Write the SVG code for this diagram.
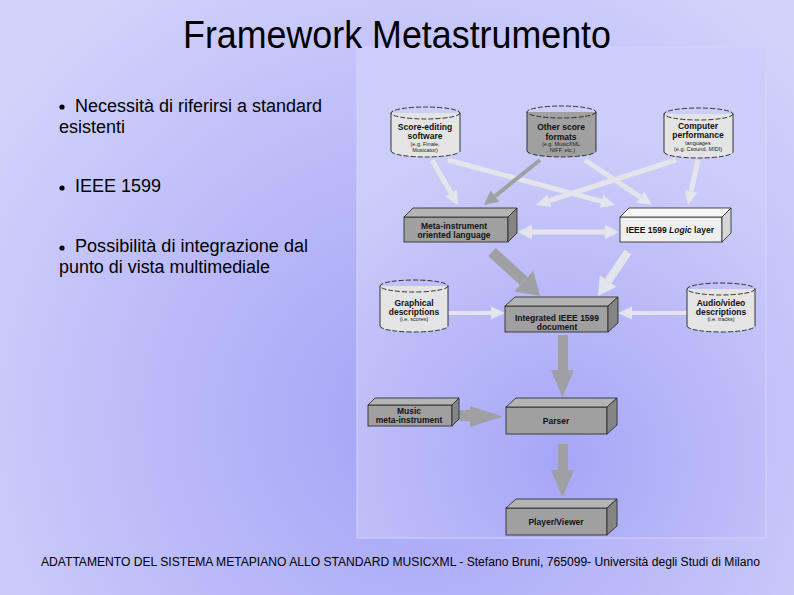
<svg xmlns="http://www.w3.org/2000/svg" width="794" height="595" viewBox="0 0 794 595">
<defs>
<radialGradient id="bg" cx="420" cy="420" r="520" gradientUnits="userSpaceOnUse">
<stop offset="0" stop-color="#a2a2f8"/>
<stop offset="0.55" stop-color="#bcbcf9"/>
<stop offset="1" stop-color="#d2d2fb"/>
</radialGradient>
<radialGradient id="bg2" cx="560" cy="460" r="330" gradientUnits="userSpaceOnUse">
<stop offset="0" stop-color="#a6a6f8"/>
<stop offset="0.6" stop-color="#bdbdf9"/>
<stop offset="1" stop-color="#cdcdfa"/>
</radialGradient>
<style>
.t{font-family:"Liberation Sans",Arial,sans-serif;fill:#000}
.b{font-family:"Liberation Sans",Arial,sans-serif;font-weight:bold;font-size:8.5px;text-anchor:middle;fill:#111}
.s{font-family:"Liberation Sans",Arial,sans-serif;font-size:5.5px;text-anchor:middle;fill:#222}
.g{fill:#a0a0a0;stroke:#222;stroke-width:0.8}
.gt{fill:#b4b4b4;stroke:#222;stroke-width:0.8}
.gs{fill:#858585;stroke:#222;stroke-width:0.8}
.l{fill:#efefef;stroke:#222;stroke-width:0.8}
.lt{fill:#f7f7f7;stroke:#222;stroke-width:0.8}
.ls{fill:#d6d6d6;stroke:#222;stroke-width:0.8}
.cb{stroke:none}
.cs{stroke:#222;stroke-width:0.9}
.cd{fill:none;stroke:#222;stroke-width:0.9;stroke-dasharray:5 2}
.la{fill:#e4e4ec}
.ga{fill:#a0a0a4}
</style>
</defs>
<rect width="794" height="595" fill="url(#bg)"/>
<rect x="357" y="47" width="409" height="491" fill="url(#bg2)" stroke="#d4d4fb" stroke-width="1"/>

<text class="t" x="183" y="48" font-size="38" textLength="428" lengthAdjust="spacingAndGlyphs">Framework Metastrumento</text>

<g id="bullets">
<circle cx="62" cy="107" r="2.6" fill="#000"/>
<text class="t" x="75" y="112" font-size="18" textLength="247" lengthAdjust="spacingAndGlyphs">Necessità di riferirsi a standard</text>
<text class="t" x="59" y="133" font-size="18">esistenti</text>
<circle cx="62" cy="188" r="2.6" fill="#000"/>
<text class="t" x="75" y="192" font-size="18">IEEE 1599</text>
<circle cx="62" cy="248" r="2.6" fill="#000"/>
<text class="t" x="75" y="252" font-size="18" textLength="233" lengthAdjust="spacingAndGlyphs">Possibilità di integrazione dal</text>
<text class="t" x="59" y="273" font-size="18" textLength="211" lengthAdjust="spacingAndGlyphs">punto di vista multimediale</text>
</g>

<text class="t" x="41" y="566" font-size="12" textLength="719" lengthAdjust="spacingAndGlyphs">ADATTAMENTO DEL SISTEMA METAPIANO ALLO STANDARD MUSICXML - Stefano Bruni, 765099- Università degli Studi di Milano</text>

<g id="connectors">
<!-- top row to middle row -->
<line x1="432" y1="160" x2="451" y2="192.9" stroke="#e4e4ec" stroke-width="5"/>
<polygon class="la" points="458,205 444.9,196.4 457.0,189.4"/>
<line x1="448" y1="160" x2="601.5" y2="201.4" stroke="#e4e4ec" stroke-width="5"/>
<polygon class="la" points="615,205 599.8,207.7 603.2,195.1"/>
<line x1="540" y1="160" x2="494.9" y2="196.2" stroke="#a0a0a4" stroke-width="4"/>
<polygon class="ga" points="484,205 490.6,190.7 499.2,201.7"/>
<line x1="585" y1="160" x2="640.4" y2="197.2" stroke="#e4e4ec" stroke-width="5"/>
<polygon class="la" points="652,205 636.6,202.9 644.2,191.5"/>
<line x1="676" y1="160" x2="549.3" y2="200.7" stroke="#e4e4ec" stroke-width="5"/>
<polygon class="la" points="536,205 547.3,194.5 551.3,206.9"/>
<line x1="698" y1="160" x2="691" y2="191.3" stroke="#e4e4ec" stroke-width="5"/>
<polygon class="la" points="688,205 684.7,189.9 697.3,192.7"/>
<!-- Meta <-> Logic -->
<polygon class="la" points="518,232 532,224.5 532,229.5 605,229.5 605,224.5 619,232 605,239.5 605,234.5 532,234.5 532,239.5"/>
<!-- Meta -> Integrated (thick gray) -->
<line x1="492" y1="252" x2="523.8" y2="281.1" stroke="#a0a0a4" stroke-width="11"/>
<polygon class="ga" points="540,296 514.3,291.4 533.3,270.8"/>
<!-- Logic -> Integrated -->
<line x1="628" y1="252" x2="608.1" y2="281.1" stroke="#e4e4ec" stroke-width="8"/>
<polygon class="la" points="598,296 599.8,275.5 616.4,286.8"/>
<!-- Graphical -> Integrated -->
<polygon class="la" points="448,311 491,311 491,306.5 505,313 491,319.5 491,315 448,315"/>
<!-- Audio -> Integrated -->
<polygon class="la" points="687,311 632,311 632,306.5 618,313 632,319.5 632,315 687,315"/>
<!-- Integrated -> Parser -->
<polygon class="ga" points="558,335 568,335 568,370 574,370 562.5,397 551,370 558,370"/>
<!-- Parser -> Player -->
<polygon class="ga" points="558,444 568,444 568,470 574,470 562.5,497 551,470 558,470"/>
<!-- Music -> Parser -->
<polygon class="ga" points="459,410 470,410 470,406 503,416.5 470,427 470,421 459,421"/>
</g>

<g id="score-editing">
<path class="cb" fill="#e4e4e4" d="M391,113 L391,151 A34.5,6 0 0 0 460,151 L460,113 Z"/>
<line class="cs" x1="391" y1="113" x2="391" y2="151"/>
<line class="cs" x1="460" y1="113" x2="460" y2="151"/>
<path class="cd" d="M391,151 A34.5,6 0 0 0 460,151"/>
<ellipse cx="425.5" cy="113" rx="34.5" ry="6" fill="#eeeeee" class="cd"/>
<text class="b" x="425" y="130">Score-editing</text>
<text class="b" x="425" y="139">software</text>
<text class="s" x="425" y="145.5">(e.g. Finale,</text>
<text class="s" x="425" y="151.5">Musicator)</text>
</g>

<g id="other-formats">
<path class="cb" fill="#a0a0a0" d="M527,112 L527,151 A34.5,6 0 0 0 596,151 L596,112 Z"/>
<line class="cs" x1="527" y1="112" x2="527" y2="151"/>
<line class="cs" x1="596" y1="112" x2="596" y2="151"/>
<path class="cd" d="M527,151 A34.5,6 0 0 0 596,151"/>
<ellipse cx="561.5" cy="112" rx="34.5" ry="6" fill="#a8a8a8" class="cd"/>
<text class="b" x="561" y="130">Other score</text>
<text class="b" x="561" y="140">formats</text>
<text class="s" x="561" y="146">(e.g. MusicXML</text>
<text class="s" x="561" y="152">, NIFF, etc.)</text>
</g>

<g id="computer-performance">
<path class="cb" fill="#e4e4e4" d="M664,114 L664,152 A34.5,6 0 0 0 733,152 L733,114 Z"/>
<line class="cs" x1="664" y1="114" x2="664" y2="152"/>
<line class="cs" x1="733" y1="114" x2="733" y2="152"/>
<path class="cd" d="M664,152 A34.5,6 0 0 0 733,152"/>
<ellipse cx="698.5" cy="114" rx="34.5" ry="6" fill="#eeeeee" class="cd"/>
<text class="b" x="698" y="129">Computer</text>
<text class="b" x="698" y="138">performance</text>
<text class="s" x="698" y="145" font-size="7">languages</text>
<text class="s" x="698" y="151">(e.g. Csound, MIDI)</text>
</g>

<g id="meta-instrument">
<rect class="g" x="404" y="217" width="104" height="25"/>
<polygon class="gt" points="404,217 413,208 517,208 508,217"/>
<polygon class="gs" points="508,217 517,208 517,233 508,242"/>
<text class="b" x="454" y="228.5">Meta-instrument</text>
<text class="b" x="454" y="237.5">oriented language</text>
</g>

<g id="logic-layer">
<rect class="l" x="620" y="217" width="102" height="25"/>
<polygon class="lt" points="620,217 629,208 731,208 722,217"/>
<polygon class="ls" points="722,217 731,208 731,233 722,242"/>
<text class="b" x="670" y="233">IEEE 1599 <tspan font-style="italic">Logic</tspan> layer</text>
</g>

<g id="graphical">
<path class="cb" fill="#e4e4e4" d="M380,286 L380,326 A34,6 0 0 0 448,326 L448,286 Z"/>
<line class="cs" x1="380" y1="286" x2="380" y2="326"/>
<line class="cs" x1="448" y1="286" x2="448" y2="326"/>
<path class="cd" d="M380,326 A34,6 0 0 0 448,326"/>
<ellipse cx="414" cy="286" rx="34" ry="6" fill="#eeeeee" class="cd"/>
<text class="b" x="414" y="306">Graphical</text>
<text class="b" x="414" y="315">descriptions</text>
<text class="s" x="414" y="321">(i.e. scores)</text>
</g>

<g id="integrated">
<rect class="g" x="505" y="306" width="103" height="26"/>
<polygon class="gt" points="505,306 515,297 618,297 608,306"/>
<polygon class="gs" points="608,306 618,297 618,323 608,332"/>
<text class="b" x="557" y="321">Integrated IEEE 1599</text>
<text class="b" x="557" y="330">document</text>
</g>

<g id="audio-video">
<path class="cb" fill="#e4e4e4" d="M687,289 L687,326 A34,6 0 0 0 755,326 L755,289 Z"/>
<line class="cs" x1="687" y1="289" x2="687" y2="326"/>
<line class="cs" x1="755" y1="289" x2="755" y2="326"/>
<path class="cd" d="M687,326 A34,6 0 0 0 755,326"/>
<ellipse cx="721" cy="289" rx="34" ry="6" fill="#eeeeee" class="cd"/>
<text class="b" x="721" y="306">Audio/video</text>
<text class="b" x="721" y="315">descriptions</text>
<text class="s" x="721" y="321">(i.e. tracks)</text>
</g>

<g id="music-meta-instrument">
<rect class="g" x="368" y="405" width="84" height="21"/>
<polygon class="gt" points="368,405 375,398 459,398 452,405"/>
<polygon class="gs" points="452,405 459,398 459,419 452,426"/>
<text class="b" x="409" y="414">Music</text>
<text class="b" x="409" y="423">meta-instrument</text>
</g>

<g id="parser">
<rect class="g" x="506" y="407" width="101" height="27"/>
<polygon class="gt" points="506,407 516,398 617,398 607,407"/>
<polygon class="gs" points="607,407 617,398 617,425 607,434"/>
<text class="b" x="556" y="424">Parser</text>
</g>

<g id="player-viewer">
<rect class="g" x="506" y="508" width="101" height="27"/>
<polygon class="gt" points="506,508 516,499 617,499 607,508"/>
<polygon class="gs" points="607,508 617,499 617,526 607,535"/>
<text class="b" x="556" y="525">Player/Viewer</text>
</g>
</svg>
